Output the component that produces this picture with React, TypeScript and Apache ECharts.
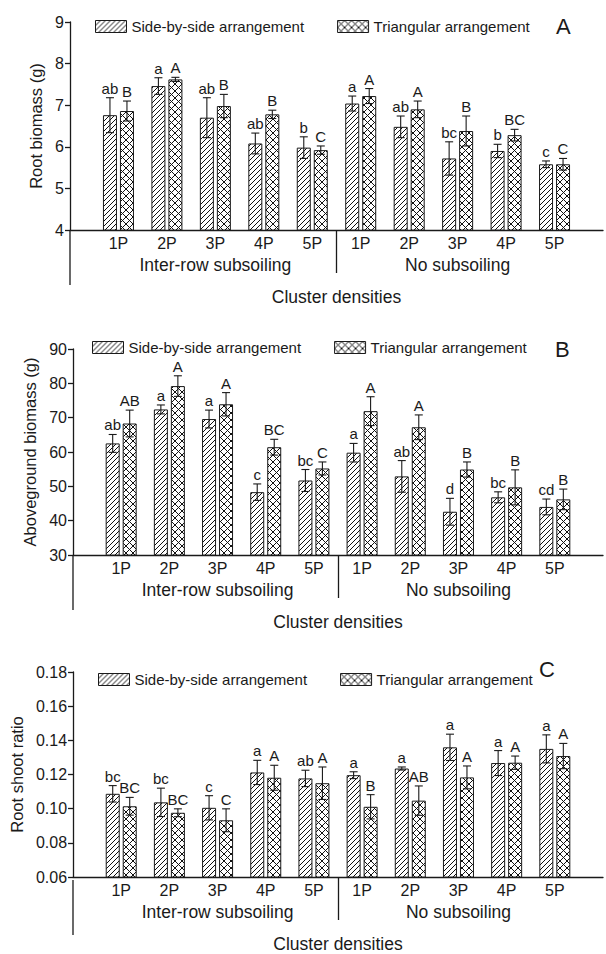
import React, { useEffect, useRef } from 'react';
import * as echarts from 'echarts';

// ---------- data ----------
const SIDE = 'Side-by-side arrangement';
const TRI = 'Triangular arrangement';
const densities = ['1P', '2P', '3P', '4P', '5P'];
const groups = ['Inter-row subsoiling', 'No subsoiling'];
const xTitle = 'Cluster densities';
const panelLetters = ['A', 'B', 'C'];
const yNames = ['Root biomass (g)', 'Aboveground biomass (g)', 'Root shoot ratio'];
const yMins = [4, 30, 0.06];
const yMaxs = [9, 90, 0.18];
const ySteps = [1, 10, 0.02];
const yDecimals = [0, 0, 2];

// Panel A: root biomass (g)
const rootSide = [6.76, 7.46, 6.70, 6.08, 5.98, 7.04, 6.48, 5.72, 5.90, 5.58];
const rootSideErr = [0.42, 0.20, 0.48, 0.25, 0.26, 0.18, 0.26, 0.40, 0.16, 0.08];
const rootTri = [6.86, 7.62, 6.98, 6.78, 5.92, 7.22, 6.90, 6.38, 6.28, 5.58];
const rootTriErr = [0.24, 0.05, 0.28, 0.10, 0.10, 0.18, 0.20, 0.36, 0.14, 0.14];
const rootSideLetters = ['ab', 'a', 'ab', 'ab', 'b', 'a', 'ab', 'bc', 'b', 'c'];
const rootTriLetters = ['B', 'A', 'B', 'B', 'C', 'A', 'A', 'B', 'BC', 'C'];

// Panel B: aboveground biomass (g)
const shootSide = [62.5, 72.4, 69.6, 48.3, 51.7, 59.8, 52.9, 42.6, 46.8, 44.0];
const shootSideErr = [2.6, 1.3, 2.6, 2.4, 3.2, 2.7, 4.6, 3.9, 1.6, 2.3];
const shootTri = [68.3, 79.2, 73.9, 61.4, 55.2, 71.9, 67.2, 54.9, 49.7, 46.2];
const shootTriErr = [3.9, 3.0, 3.4, 2.3, 1.9, 4.2, 3.6, 2.2, 5.1, 3.0];
const shootSideLetters = ['ab', 'a', 'a', 'c', 'bc', 'a', 'ab', 'd', 'bc', 'cd'];
const shootTriLetters = ['AB', 'A', 'A', 'BC', 'C', 'A', 'A', 'B', 'B', 'B'];

// Panel C: root shoot ratio
const ratioSide = [0.1087, 0.1037, 0.1005, 0.1212, 0.1177, 0.1196, 0.1235, 0.1359, 0.1267, 0.1350];
const ratioSideErr = [0.0048, 0.0083, 0.0071, 0.0071, 0.0048, 0.0020, 0.0009, 0.0077, 0.0073, 0.0082];
const ratioTri = [0.1014, 0.0976, 0.0932, 0.1181, 0.1149, 0.1011, 0.1047, 0.1183, 0.1269, 0.1308];
const ratioTriErr = [0.0052, 0.0023, 0.0067, 0.0073, 0.0095, 0.0071, 0.0086, 0.0067, 0.0039, 0.0074];
const ratioSideLetters = ['bc', 'bc', 'c', 'a', 'ab', 'a', 'a', 'a', 'a', 'a'];
const ratioTriLetters = ['BC', 'BC', 'C', 'A', 'A', 'B', 'AB', 'A', 'A', 'A'];

// ---------- styles / layout ----------
const INK = '#1a1a1a';
const FONT = "'Liberation Sans', Arial, Helvetica, sans-serif";
const BAR_W = 14;
const BAR_GAP = 3;
const OFFSET = (BAR_W + BAR_GAP) / 2;
const GRID_W = 541;
const GRIDS = [
  { left: 70, top: 22, height: 208, nameGap: 22, legendLeft: 95, legendTop: 19, titleLeft: 556, titleTop: 15 },
  { left: 73, top: 349, height: 206, nameGap: 27, legendLeft: 92, legendTop: 340, titleLeft: 555, titleTop: 338 },
  { left: 73, top: 672, height: 208, nameGap: 41, legendLeft: 98, legendTop: 672, titleLeft: 539, titleTop: 658 },
];

function makePattern(cross: boolean) {
  const s = cross ? 7 : 5;
  const c = document.createElement('canvas');
  c.width = s;
  c.height = s;
  const ctx = c.getContext('2d')!;
  ctx.fillStyle = '#ffffff';
  ctx.fillRect(0, 0, s, s);
  ctx.strokeStyle = '#111';
  ctx.lineWidth = 1;
  ctx.beginPath();
  for (const k of [-1, 0, 1]) {
    ctx.moveTo(k * s, s);
    ctx.lineTo(k * s + s, 0);
    if (cross) {
      ctx.moveTo(k * s, 0);
      ctx.lineTo(k * s + s, s);
    }
  }
  ctx.stroke();
  return { image: c.toDataURL(), repeat: 'repeat', imageWidth: s, imageHeight: s } as any;
}

function makeErr(letters: string[], offset: number) {
  return (params: any, api: any) => {
    const idx = api.value(0);
    const m = api.value(1);
    const e = api.value(2);
    const top = api.coord([idx, m + e]);
    const bot = api.coord([idx, m - e]);
    const x = top[0] + offset;
    const cap = 4;
    const st = { stroke: INK, lineWidth: 1.1 };
    return {
      type: 'group',
      children: [
        { type: 'line', shape: { x1: x, y1: top[1], x2: x, y2: bot[1] }, style: st },
        { type: 'line', shape: { x1: x - cap, y1: top[1], x2: x + cap, y2: top[1] }, style: st },
        { type: 'line', shape: { x1: x - cap, y1: bot[1], x2: x + cap, y2: bot[1] }, style: st },
        {
          type: 'text',
          x,
          y: top[1] - 2,
          style: {
            text: letters[params.dataIndex],
            align: 'center',
            verticalAlign: 'bottom',
            fontSize: 15,
            fontFamily: FONT,
            fill: INK,
          },
        },
      ],
    };
  };
}

function buildOption() {
  const hatch = makePattern(false);
  const crossP = makePattern(true);
  const categories = ['start|', ...groups.flatMap((g) => densities.map((d) => `${g}|${d}`)), 'end|'];
  const lastIdx = categories.length - 1;
  const groupCenters = groups.map((_, g) => 1 + g * densities.length + (densities.length - 1) / 2);
  const separators = groups.slice(1).map((_, g) => 1 + (g + 1) * densities.length - 0.5);
  const pad = (arr: number[]) => ['-', ...arr, '-'];

  const panels = [
    { side: rootSide, sideErr: rootSideErr, tri: rootTri, triErr: rootTriErr, sL: rootSideLetters, tL: rootTriLetters },
    { side: shootSide, sideErr: shootSideErr, tri: shootTri, triErr: shootTriErr, sL: shootSideLetters, tL: shootTriLetters },
    { side: ratioSide, sideErr: ratioSideErr, tri: ratioTri, triErr: ratioTriErr, sL: ratioSideLetters, tL: ratioTriLetters },
  ];

  const grid: any[] = [];
  const xAxis: any[] = [];
  const yAxis: any[] = [];
  const series: any[] = [];
  const legend: any[] = [];
  const title: any[] = [];
  const graphic: any[] = [];
  const axisLineStyle = { color: INK, width: 1.3 };

  panels.forEach((p, i) => {
    const L = GRIDS[i];
    grid.push({ left: L.left, top: L.top, width: GRID_W, height: L.height, containLabel: false });
    xAxis.push({
      type: 'category',
      gridIndex: i,
      data: categories,
      boundaryGap: false,
      axisLine: { lineStyle: axisLineStyle },
      axisTick: { show: false },
      splitLine: { show: false },
      axisLabel: {
        interval: 0,
        fontSize: 16,
        color: INK,
        fontFamily: FONT,
        margin: 5,
        formatter: (v: string) => v.split('|')[1],
      },
      name: xTitle,
      nameLocation: 'middle',
      nameGap: 58,
      nameTextStyle: { fontSize: 17.5, color: INK, fontFamily: FONT },
    });
    xAxis.push({
      type: 'value',
      gridIndex: i,
      min: 0,
      max: lastIdx,
      position: 'bottom',
      axisLine: { show: false },
      splitLine: { show: false },
      axisTick: { show: true, customValues: separators, length: 43, lineStyle: axisLineStyle },
      axisLabel: {
        customValues: groupCenters,
        formatter: (v: number) => groups[groupCenters.indexOf(v)] ?? '',
        fontSize: 17.5,
        color: INK,
        fontFamily: FONT,
        margin: 26,
      },
    });
    yAxis.push({
      type: 'value',
      gridIndex: i,
      min: yMins[i],
      max: yMaxs[i],
      interval: ySteps[i],
      axisLine: { show: true, lineStyle: axisLineStyle },
      axisTick: { show: true, length: 5, lineStyle: axisLineStyle },
      splitLine: { show: false },
      axisLabel: {
        fontSize: 16,
        color: INK,
        fontFamily: FONT,
        margin: 6,
        formatter: (v: number) => v.toFixed(yDecimals[i]),
      },
      name: yNames[i],
      nameLocation: 'middle',
      nameGap: L.nameGap,
      nameTextStyle: { fontSize: 16.5, color: INK, fontFamily: FONT },
    });
    const common = { xAxisIndex: 2 * i, yAxisIndex: i, silent: true };
    series.push({
      ...common,
      type: 'bar',
      name: SIDE,
      data: pad(p.side),
      barWidth: BAR_W,
      barGap: `${(BAR_GAP / BAR_W) * 100}%`,
      itemStyle: { color: hatch, borderColor: INK, borderWidth: 1 },
    });
    series.push({
      ...common,
      type: 'bar',
      name: TRI,
      data: pad(p.tri),
      barWidth: BAR_W,
      barGap: `${(BAR_GAP / BAR_W) * 100}%`,
      itemStyle: { color: crossP, borderColor: INK, borderWidth: 1 },
    });
    series.push({
      ...common,
      type: 'custom',
      name: `${SIDE} error ${i}`,
      z: 3,
      data: p.side.map((m, k) => [k + 1, m, p.sideErr[k]]),
      renderItem: makeErr(p.sL, -OFFSET),
    });
    series.push({
      ...common,
      type: 'custom',
      name: `${TRI} error ${i}`,
      z: 3,
      data: p.tri.map((m, k) => [k + 1, m, p.triErr[k]]),
      renderItem: makeErr(p.tL, OFFSET),
    });
    legend.push({
      data: [SIDE, TRI],
      left: L.legendLeft,
      top: L.legendTop,
      padding: 0,
      icon: 'rect',
      itemWidth: 31,
      itemHeight: 12,
      itemGap: 33,
      selectedMode: false,
      itemStyle: { borderColor: INK, borderWidth: 1 },
      textStyle: { fontSize: 15, color: INK, fontFamily: FONT },
    });
    title.push({
      text: panelLetters[i],
      left: L.titleLeft,
      top: L.titleTop,
      padding: 0,
      textStyle: { fontSize: 22, fontWeight: 'normal', color: INK, fontFamily: FONT },
    });
    graphic.push({
      type: 'line',
      silent: true,
      shape: { x1: L.left, y1: L.top + L.height, x2: L.left, y2: L.top + L.height + 55 },
      style: { stroke: INK, lineWidth: 1.3 },
    });
  });

  return {
    animation: false,
    backgroundColor: '#ffffff',
    textStyle: { fontFamily: FONT, color: INK },
    grid,
    xAxis,
    yAxis,
    series,
    legend,
    title,
    graphic,
  };
}

export default function App() {
  const ref = useRef<HTMLDivElement>(null);
  useEffect(() => {
    if (!ref.current) return;
    const chart = echarts.init(ref.current, null, { renderer: 'svg' });
    chart.setOption(buildOption() as any);
    return () => chart.dispose();
  }, []);
  return (
    <div
      ref={ref}
      style={{ position: 'absolute', left: 0, top: 0, width: 606, height: 954, background: '#fff' }}
    />
  );
}
